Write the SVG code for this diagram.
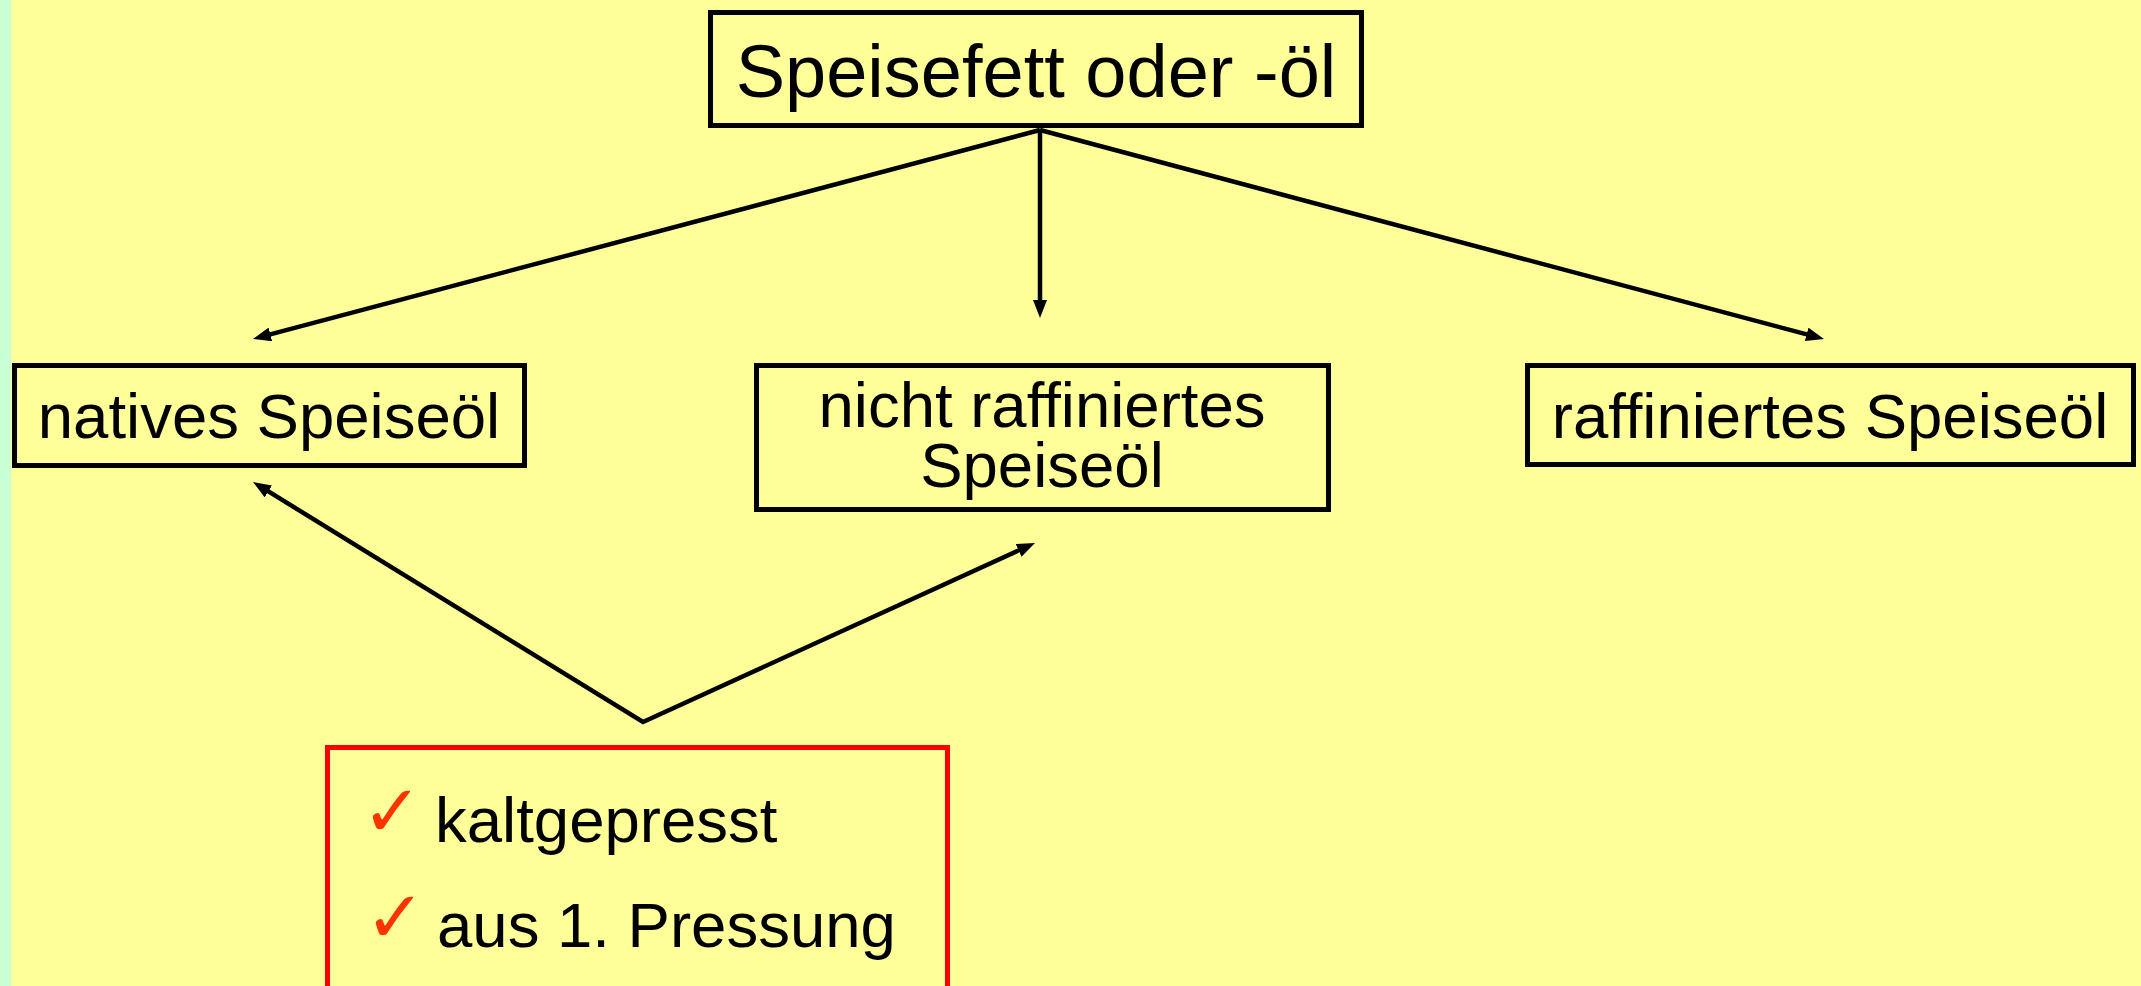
<svg xmlns="http://www.w3.org/2000/svg" width="2141" height="986" viewBox="0 0 2141 986">
  <style>
    .box { fill: #FFFF99; stroke: #000000; stroke-width: 5; }
    .note { fill: #FFFF99; stroke: #FF0000; stroke-width: 5; }
    .lbl { font-family: "Liberation Sans", Arial, sans-serif; fill: #000000; }
    .c { text-anchor: middle; }
    .edge { fill: none; stroke: #000000; stroke-width: 4.5; }
    .tick { font-family: "DejaVu Sans", sans-serif; fill: #FF3300; }
  </style>
  <defs>
    <marker id="arrow" markerUnits="userSpaceOnUse" markerWidth="18" markerHeight="14" refX="9" refY="7" orient="auto-start-reverse" viewBox="0 0 18 14">
      <path d="M0,0 L18,7 L0,14 z" fill="#000000"/>
    </marker>
  </defs>

  <!-- page background with the mint strip on the left edge -->
  <rect x="0" y="0" width="2141" height="986" fill="#FFFF99"/>
  <rect x="0" y="0" width="11" height="986" fill="#C8FFD4"/>

  <!-- connectors -->
  <g id="connectors">
    <path class="edge" d="M1040,130 L261.7,336.7" marker-end="url(#arrow)"/>
    <path class="edge" d="M1040,130 L1040,309" marker-end="url(#arrow)"/>
    <path class="edge" d="M1040,130 L1815.3,336.7" marker-end="url(#arrow)"/>
    <path class="edge" d="M260.7,486.7 L643,722 L1026.8,546.7" marker-start="url(#arrow)" marker-end="url(#arrow)"/>
  </g>

  <g id="node-speisefett">
    <rect class="box" x="710.5" y="12.5" width="651" height="113"/>
    <text class="lbl c" x="1036" y="97" font-size="74">Speisefett oder -öl</text>
  </g>

  <g id="node-nativ">
    <rect class="box" x="14.5" y="365.5" width="510" height="100"/>
    <text class="lbl c" x="269" y="438" font-size="63.5">natives Speiseöl</text>
  </g>

  <g id="node-nicht-raffiniert">
    <rect class="box" x="756.5" y="365.5" width="572" height="144"/>
    <text class="lbl c" font-size="63.5"><tspan x="1042" y="427">nicht raffiniertes</tspan><tspan x="1042" y="487">Speiseöl</tspan></text>
  </g>

  <g id="node-raffiniert">
    <rect class="box" x="1527.5" y="365.5" width="606" height="99"/>
    <text class="lbl c" x="1830" y="438" font-size="63.5">raffiniertes Speiseöl</text>
  </g>

  <g id="node-merkmale">
    <rect class="note" x="327.5" y="747.5" width="620" height="260"/>
    <text class="tick" x="362" y="836" font-size="72">✓</text>
    <text class="lbl" x="435" y="842" font-size="63.5">kaltgepresst</text>
    <text class="tick" x="365" y="942" font-size="72">✓</text>
    <text class="lbl" x="437" y="947" font-size="63.5">aus 1. Pressung</text>
  </g>
</svg>
